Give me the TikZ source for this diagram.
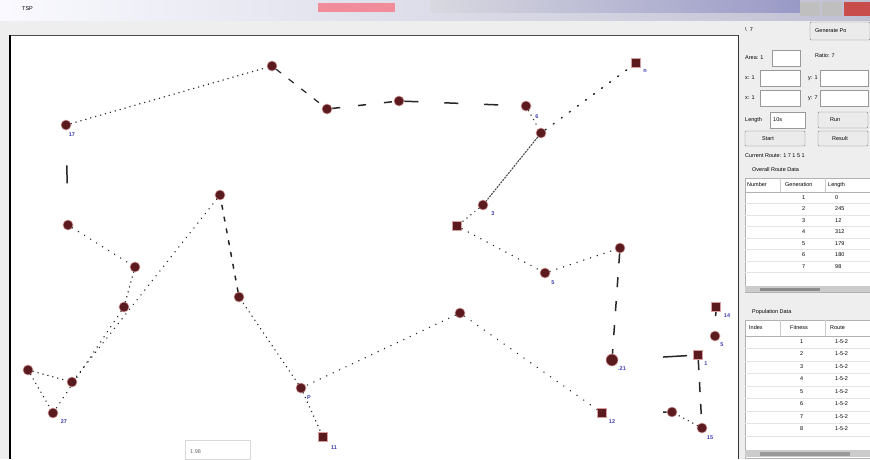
\documentclass[tikz,border=0pt]{standalone}
\usepackage{fontspec}
\setmainfont{Liberation Sans}
\usetikzlibrary{shapes.geometric}
\definecolor{city}{HTML}{5A1A1E}
\definecolor{lab}{HTML}{3A3AB0}
\definecolor{panel}{HTML}{EEEEEE}
\tikzset{
  cityc/.style={circle,fill=city,minimum size=10pt,inner sep=0pt,draw=city!60!red!40,line width=0.6pt},
  citys/.style={rectangle,fill=city,minimum size=9.5pt,inner sep=0pt,draw=city!60!red!40,line width=0.6pt},
  lbl/.style={text=lab,font=\fontsize{5.5}{6}\selectfont\bfseries,inner sep=0pt},
  dotl/.style={draw=black!85,line width=1.5pt,line cap=round,dash pattern=on 0.1pt off 5pt},
  dashl/.style={draw=black!85,line width=1.5pt,dash pattern=on 22pt off 38pt},
  finel/.style={draw=black!75,line width=1pt,dash pattern=on 2pt off 1pt},
  ptxt/.style={font=\fontsize{5.5}{6}\selectfont,inner sep=0pt,anchor=west},
  btn/.style={draw=black!50,fill=black!8,rounded corners=1pt},
  tbox/.style={draw=black!40,fill=white}
}
\begin{document}
\begin{tikzpicture}[x=1pt,y=-1pt]
\useasboundingbox (0,0) rectangle (870,459);
% window background
\fill[panel] (0,0) rectangle (870,459);
% title bar
\shade[left color=white!85!blue!15, right color=blue!30!black!25] (0,0) rectangle (870,20);
\shade[left color=blue!20!black!15, right color=blue!45!black!40] (430,0) rectangle (800,12);
\fill[red!50!purple!45] (318,3) rectangle (395,12);
\node[ptxt] (title) at (22,9) {TSP};
\fill[black!25] (800,2) rectangle (820,16);
\fill[black!25] (822,2) rectangle (842,16);
\fill[red!70!black!70] (844,2) rectangle (870,16);
% canvas
\fill[white] (10,35) rectangle (738,459);
\draw[black!70,line width=0.8pt] (10,35) -- (738,35);
\draw[black,line width=2pt] (10,35) -- (10,459);
\draw[black!80,line width=1pt] (738,35) -- (738,459);

% cities
\node[cityc] (n1) at (66,125) {};
\node[cityc] (n2) at (272,66) {};
\node[cityc] (n3) at (327,109) {};
\node[cityc] (n4) at (399,101) {};
\node[cityc] (n5) at (526,106) {};
\node[cityc] (n6) at (541,133) {};
\node[citys] (n7) at (636,63) {};
\node[cityc] (n8) at (483,205) {};
\node[citys] (n9) at (457,226) {};
\node[cityc] (n10) at (220,195) {};
\node[cityc] (n11) at (68,225) {};
\node[cityc] (n12) at (135,267) {};
\node[cityc] (n13) at (124,307) {};
\node[cityc] (n14) at (239,297) {};
\node[cityc] (n15) at (28,370) {};
\node[cityc] (n16) at (72,382) {};
\node[cityc] (n17) at (53,413) {};
\node[cityc] (n18) at (301,388) {};
\node[citys] (n19) at (323,437) {};
\node[cityc] (n20) at (460,313) {};
\node[citys] (n21) at (602,413) {};
\node[cityc] (n22) at (545,273) {};
\node[cityc] (n23) at (620,248) {};
\node[cityc,minimum size=12pt] (n24) at (612,360) {};
\node[citys] (n25) at (698,355) {};
\node[citys] (n26) at (716,307) {};
\node[cityc] (n27) at (715,336) {};
\node[cityc] (n28) at (672,412) {};
\node[cityc] (n29) at (702,428) {};

% labels
\node[lbl] (l5) at (537,117) {6};
\node[lbl] (l7) at (645,71) {n};
\node[lbl] (l8) at (493,214) {3};
\node[lbl] (l18) at (309,398) {P};
\node[lbl] (l19) at (334,448) {11};
\node[lbl] (l21) at (612,422) {12};
\node[lbl] (l22) at (553,283) {5};
\node[lbl] (l24) at (622,369) {.21};
\node[lbl] (l25) at (706,364) {1};
\node[lbl] (l26) at (727,316) {14};
\node[lbl] (l27) at (722,345) {5};
\node[lbl] (l29) at (710,438) {15};
\node[lbl] (l17) at (64,422) {27};
\node[lbl] (l1) at (72,135) {17};

% tour edges
\draw[dotl] (n1) -- (n2);
\draw[dotl,dash pattern=on 6pt off 10pt,line width=1.2pt] (n2) -- (n3);
\draw[dashl,dash pattern=on 8pt off 18pt] (n3) -- (n4);
\draw[dashl,dash pattern=on 14pt off 26pt] (n4) -- (n5);
\draw[dotl] (n5) -- (n6);
\draw[dotl,dash pattern=on 1pt off 9pt] (n6) -- (n7);
\draw[finel] (n6) -- (n8);
\draw[dotl] (n8) -- (n9);
\draw[dotl,dash pattern=on 0.1pt off 7pt] (n9) -- (n22);
\draw[dotl,dash pattern=on 0.1pt off 7pt] (n22) -- (n23);
\draw[dashl,dash pattern=on 10pt off 14pt] (n23) -- (n24);
\draw[dashl,dash pattern=on 0pt off 45pt on 24pt off 30pt] (n24) -- (n25);
\draw[dashl,dash pattern=on 10pt off 12pt] (n25) -- (n29);
\draw[dashl,dash pattern=on 4pt off 20pt] (n26) -- (n27);
\draw[dotl] (n29) -- (n28);
\draw[dashl,dash pattern=on 0pt off 56pt on 14pt off 40pt] (n21) -- (n28);
\draw[dotl,dash pattern=on 0.1pt off 8pt] (n21) -- (n20);
\draw[dotl,dash pattern=on 0.1pt off 7pt] (n20) -- (n18);
\draw[dotl] (n18) -- (n19);
\draw[dotl] (n18) -- (n14);
\draw[dotl,dash pattern=on 4pt off 8pt] (n14) -- (n10);
\draw[dotl,dash pattern=on 0.1pt off 6pt] (n10) -- (n16);
\draw[dotl,dash pattern=on 0.1pt off 6pt] (n13) -- (n17);
\draw[dotl] (n12) -- (n13);
\draw[dotl,dash pattern=on 0.1pt off 7pt] (n11) -- (n12);
\draw[dotl] (n15) -- (n16);
\draw[dotl] (n15) -- (n17);
\draw[dashl,dash pattern=on 0pt off 35pt on 18pt off 60pt] (n1) -- (n11);

% small tooltip box at bottom
\draw[black!15] (185,440) rectangle (250,459);
\node[ptxt,text=black!60] (tip) at (190,452) {1.98};

% right panel
\node[ptxt] (p1) at (745,30) {\textbackslash\ \ 7};
\draw[btn] (810,22) rectangle (870,40);
\node[ptxt] (b1) at (815,31) {Generate Po};
\node[ptxt] (p2) at (745,58) {Area: 1};
\draw[tbox] (772,50) rectangle (800,66);
\node[ptxt] (p3) at (815,56) {Ratio: 7};
\node[ptxt] (p4) at (745,78) {x: 1};
\draw[tbox] (760,70) rectangle (800,86);
\node[ptxt] (p5) at (808,78) {y: 1};
\draw[tbox] (820,70) rectangle (868,86);
\node[ptxt] (p6) at (745,98) {x: 1};
\draw[tbox] (760,90) rectangle (800,106);
\node[ptxt] (p7) at (808,98) {y: 7};
\draw[tbox] (820,90) rectangle (868,106);
\node[ptxt] (p8) at (745,120) {Length};
\draw[tbox] (770,112) rectangle (805,128);
\node[ptxt] (p8b) at (773,120) {10s};
\draw[btn] (818,112) rectangle (868,128);
\node[ptxt] (b2) at (830,120) {Run};
\draw[btn] (745,131) rectangle (805,146);
\node[ptxt] (b3) at (762,139) {Start};
\draw[btn] (818,131) rectangle (868,146);
\node[ptxt] (b4) at (832,139) {Result};
\node[ptxt] (p9) at (745,156) {Current Route: 1 7 1 5 1};
\node[ptxt] (p10) at (752,170) {Overall Route Data};
% table 1
\draw[black!30,fill=white] (745,178) rectangle (870,292);
\draw[black!30] (745,192) -- (870,192);
\draw[black!20] (780,178) -- (780,192) (825,178) -- (825,192);
\node[ptxt] (h1) at (747,185) {Number};
\node[ptxt] (h2) at (785,185) {Generation};
\node[ptxt] (h3) at (828,185) {Length};
\foreach \i/\v in {1/0,2/245,3/12,4/312,5/179,6/180,7/98}{
  \draw[black!10] (745,192+\i*11.5) -- (870,192+\i*11.5);
  \node[ptxt] at (802,186+\i*11.5) {\i};
  \node[ptxt] at (835,186+\i*11.5) {\v};
}
\fill[black!20] (745,286) rectangle (870,292);
\fill[black!45] (760,287.5) rectangle (820,290.5);
\node[ptxt] (p11) at (752,312) {Population Data};
% table 2
\draw[black!30,fill=white] (745,320) rectangle (870,458);
\draw[black!30] (745,336) -- (870,336);
\draw[black!20] (780,320) -- (780,336) (825,320) -- (825,336);
\node[ptxt] (h4) at (749,328) {Index};
\node[ptxt] (h5) at (790,328) {Fitness};
\node[ptxt] (h6) at (830,328) {Route};
\foreach \i in {1,...,8}{
  \draw[black!10] (745,336+\i*12.5) -- (870,336+\i*12.5);
  \node[ptxt] at (800,329+\i*12.5) {\i};
  \node[ptxt] at (835,329+\i*12.5) {1-5-2};
}
\fill[black!20] (745,450) rectangle (870,457);
\fill[black!40] (760,451.5) rectangle (850,455.5);
\end{tikzpicture}
\end{document}
